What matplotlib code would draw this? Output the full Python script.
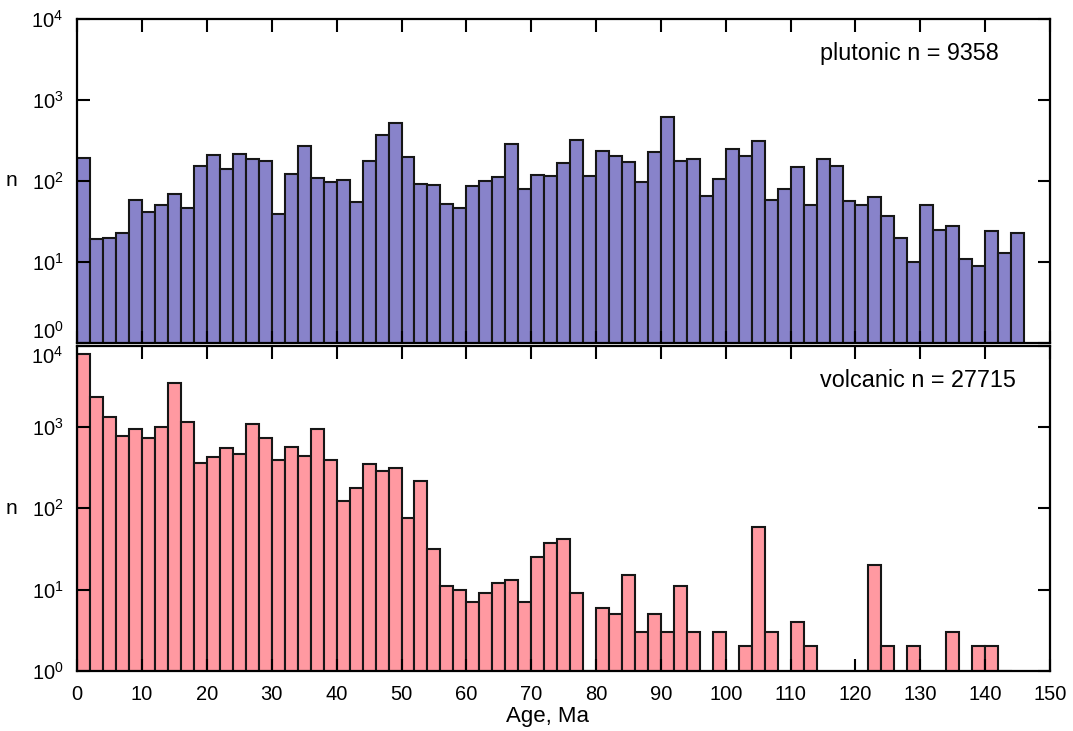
#!/usr/bin/env python3
import numpy as np
import matplotlib
matplotlib.use('Agg')
import matplotlib.pyplot as plt
import matplotlib.ticker as mticker

# 2 Ma bins, 0-146 Ma
bin_left = np.arange(0, 146, 2)

plutonic = [194, 19, 20, 23, 58, 41, 51, 70, 46, 155,
            211, 142, 217, 185, 176, 39, 122, 267, 108, 96,
            103, 55, 176, 365, 513, 200, 91, 88, 52, 46,
            86, 99, 111, 283, 80, 117, 114, 168, 317, 115,
            234, 203, 170, 97, 230, 609, 178, 187, 66, 107,
            246, 201, 314, 59, 80, 150, 51, 185, 152, 56,
            50, 64, 37, 20, 10, 51, 25, 28, 11, 9,
            24, 13, 23]

volcanic = [7970, 2350, 1350, 785, 940, 728, 995, 3540, 1150, 365,
            429, 554, 463, 1083, 743, 390, 565, 441, 949, 398,
            124, 180, 352, 288, 311, 77, 217, 32, 11, 10,
            7, 9, 12, 13, 7, 25, 37, 42, 9, 1,
            6, 5, 15, 3, 5, 3, 11, 3, 0, 3,
            0, 2, 59, 3, 0, 4, 2, 0, 0, 0,
            0, 20, 2, 0, 2, 0, 0, 3, 0, 2,
            2, 1, 0]

labels = ['plutonic n = 9358', 'volcanic n = 27715']
colors = ['#8883CA', '#FF99A1']

plt.rcParams['font.family'] = 'Liberation Sans'
plt.rcParams['mathtext.fontset'] = 'custom'
plt.rcParams['mathtext.rm'] = 'Liberation Sans'
plt.rcParams['mathtext.it'] = 'Liberation Sans:italic'

fig = plt.figure(figsize=(10.73, 7.31), dpi=100)
ax1 = fig.add_axes([0.072, 0.5308, 0.9066, 0.4432])
ax2 = fig.add_axes([0.072, 0.0825, 0.9066, 0.4442])

for ax, vals, lab, col in [(ax1, plutonic, labels[0], colors[0]),
                           (ax2, volcanic, labels[1], colors[1])]:
    v = np.array(vals, dtype=float)
    m = v > 0
    ax.bar(bin_left[m], v[m], width=2, align='edge', color=col,
           edgecolor='#161616', linewidth=1.5, log=True)
    ax.set_yscale('log')
    ax.set_ylim(1, 1e4)
    ax.set_xlim(0, 150)
    ax.set_xticks(np.arange(0, 151, 10))
    ax.set_yticks([1, 10, 100, 1000, 10000])
    ax.yaxis.set_minor_locator(mticker.NullLocator())
    ax.yaxis.set_major_formatter(mticker.FuncFormatter(
        lambda y, p: r'$10^{%d}$' % int(round(np.log10(y)))))
    ax.tick_params(direction='in', length=9, width=1.5, top=True, right=True)
    ax.tick_params(axis='x', labelsize=14.5, pad=10)
    ax.tick_params(axis='y', labelsize=14.5, pad=10)
    for s in ax.spines.values():
        s.set_linewidth(1.6)
    ax.set_ylabel('n', rotation=0, fontsize=15, labelpad=14, va='center')
    ax.text(0.764, 0.893, lab, transform=ax.transAxes, ha='left',
            va='center', fontsize=16.8)

ax1.tick_params(labelbottom=False)
ax2.set_xlabel('Age, Ma', fontsize=16)
ax2.xaxis.set_label_coords(0.483, -0.11)

fig.canvas.draw()
ax1.get_yticklabels()[0].set_va('bottom')
ax2.get_yticklabels()[-1].set_va('top')

fig.savefig('out.png', dpi=100)
